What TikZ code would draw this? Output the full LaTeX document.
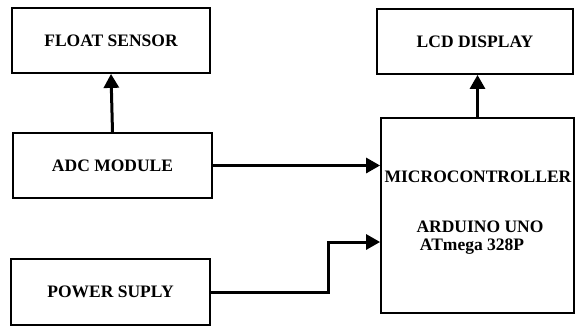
\documentclass[tikz,border=0pt]{standalone}
\usepackage{fontspec}
\setmainfont{Liberation Serif}
\usetikzlibrary{arrows.meta}

\begin{document}
\begin{tikzpicture}[x=1pt,y=-1pt,>={Triangle[length=14pt,width=15pt]},
	font=\fontsize{17.5}{20}\selectfont\bfseries]
	\tikzstyle{block}=[draw,line width=1.8pt,rectangle,inner sep=0pt,minimum height=65pt]
	\tikzstyle{flow}=[->,line width=3pt]
	\tikzstyle{annot}=[inner sep=0pt]

	\useasboundingbox (0,0) rectangle (575,327);

	% Draw the blocks on the left
	\node[block,minimum width=198pt] (float) at (111,40.5) {FLOAT SENSOR};
	\node[block,minimum width=199pt] (adc) at (112.5,165.5) {ADC MODULE};
	\node[block,minimum width=199pt,minimum height=66pt] (power) at (110.5,292) {POWER SUPLY};

	% Draw the blocks on the right
	\node[block,minimum width=196pt] (lcd) at (475,41.5) {LCD DISPLAY};
	\node[block,minimum width=193pt,minimum height=195pt] (micro) at (477.5,215.5) {};

	% Text inside the microcontroller
	\node[annot] (mcu) at (478,177) {MICROCONTROLLER};
	\node[annot] (uno) at (480,227) {ARDUINO UNO};
	\node[annot] (chip) at (472,247) {ATmega 328P};

	% Connect the blocks
	\draw[flow] (adc.north) -- (float.south);
	\draw[flow] (micro.north) -- (micro.north |- lcd.south);
	\draw[flow] (adc.east) -- (adc.east -| micro.west);
	\draw[flow] (power.east) -- ++(118,0) |- ([yshift=-26.5pt]micro.west);

\end{tikzpicture}
\end{document}
